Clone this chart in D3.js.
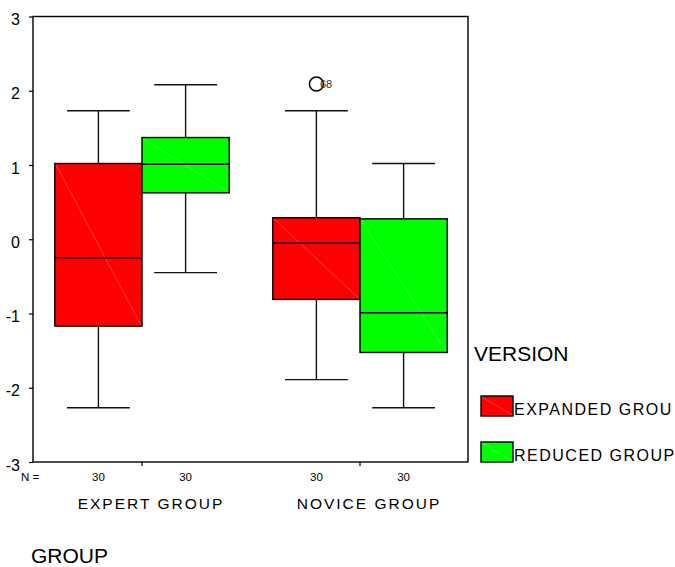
<!DOCTYPE html>
<html>
<head>
<meta charset="utf-8">
<script src="https://cdn.jsdelivr.net/npm/d3@7"></script>
<style>
  body { margin: 0; background: #fff; }
  svg { display: block; background: #fff; }
  text { font-family: "Liberation Sans", Arial, sans-serif; fill: #000; }
</style>
</head>
<body>
<svg id="chart" width="675" height="567"></svg>
<script>
// Groups on the x axis and the versions compared inside each group
const groups = ["EXPERT GROUP", "NOVICE GROUP"];
const versions = ["EXPANDED GROUP", "REDUCED GROUP"];
const legendLabels = ["EXPANDED GROU", "REDUCED GROUP"];
const versionColors = ["#ff0000", "#00ff00"];

// Sample sizes, one row per group, one entry per version
const expertCounts = [30, 30];
const noviceCounts = [30, 30];

// Box summaries: [lower whisker, Q1, median, Q3, upper whisker]
const expertStats = [
  [-2.27, -1.17, -0.25, 1.02, 1.73],
  [-0.45, 0.625, 1.01, 1.37, 2.08]
];
const noviceStats = [
  [-1.89, -0.81, -0.05, 0.29, 1.73],
  [-2.27, -1.525, -0.99, 0.275, 1.02]
];

// Flagged outlying cases
const outlierGroups = ["NOVICE GROUP"];
const outlierVersions = ["EXPANDED GROUP"];
const outlierValues = [2.09];
const outlierCases = ["68"];

const yTicks = [-3, -2, -1, 0, 1, 2, 3];

// Build box records from the arrays above
const statsByGroup = { "EXPERT GROUP": expertStats, "NOVICE GROUP": noviceStats };
const countsByGroup = { "EXPERT GROUP": expertCounts, "NOVICE GROUP": noviceCounts };
const boxes = [];
groups.forEach(g => versions.forEach((v, i) => {
  const s = statsByGroup[g][i];
  boxes.push({ group: g, version: v, color: versionColors[i], n: countsByGroup[g][i],
               lo: s[0], q1: s[1], med: s[2], q3: s[3], hi: s[4] });
}));
const outliers = outlierValues.map((val, i) => ({
  group: outlierGroups[i], version: outlierVersions[i], value: val, label: outlierCases[i]
}));

const svg = d3.select("#chart");
const plot = { left: 33, right: 469, top: 16.5, bottom: 462 };

const x = d3.scaleBand().domain(groups).range([plot.left, plot.right]).padding(0);
const bw = x.bandwidth();
const xv = d3.scaleBand().domain(versions).range([0.1 * bw, 0.9 * bw]).padding(0);
const boxW = xv.bandwidth();
const y = d3.scaleLinear().domain([-3, 3]).range([plot.bottom, plot.top]);

const cx = d => x(d.group) + xv(d.version) + boxW / 2;

// Y axis ticks and labels (plain hyphen for negatives)
const yAxis = svg.append("g")
  .attr("transform", `translate(${plot.left},0)`)
  .call(d3.axisLeft(y).tickValues(yTicks).tickSize(4).tickSizeOuter(0).tickPadding(9).tickFormat(d => String(d)));
yAxis.select(".domain").remove();
yAxis.selectAll(".tick line").attr("stroke", "#000").attr("stroke-width", 1.2);
yAxis.selectAll(".tick text")
  .attr("font-size", 16).attr("dy", "0.5em")
  .style("font-family", '"Liberation Sans", Arial, sans-serif').attr("fill", "#000");

// X axis ticks at group centres
const xAxis = svg.append("g")
  .attr("transform", `translate(0,${plot.bottom})`)
  .call(d3.axisBottom(x).tickSize(4).tickSizeOuter(0).tickFormat(""));
xAxis.select(".domain").remove();
xAxis.selectAll(".tick line").attr("stroke", "#000").attr("stroke-width", 1.2);

// Whiskers and caps
const capHalf = boxW * 0.36;
const wh = svg.append("g").attr("stroke", "#111").attr("stroke-width", 1.4);
boxes.forEach(d => {
  const c = cx(d);
  wh.append("line").attr("x1", c).attr("x2", c).attr("y1", y(d.q3)).attr("y2", y(d.hi));
  wh.append("line").attr("x1", c).attr("x2", c).attr("y1", y(d.q1)).attr("y2", y(d.lo));
  wh.append("line").attr("x1", c - capHalf).attr("x2", c + capHalf).attr("y1", y(d.hi)).attr("y2", y(d.hi));
  wh.append("line").attr("x1", c - capHalf).attr("x2", c + capHalf).attr("y1", y(d.lo)).attr("y2", y(d.lo));
});

// Boxes
const bx = svg.append("g");
boxes.forEach(d => {
  const x0 = x(d.group) + xv(d.version);
  bx.append("rect")
    .attr("x", x0).attr("y", y(d.q3))
    .attr("width", boxW).attr("height", y(d.q1) - y(d.q3))
    .attr("fill", d.color).attr("stroke", "#000").attr("stroke-width", 1.4);
  // faint fill-pattern diagonal
  bx.append("line")
    .attr("x1", x0 + 1).attr("y1", y(d.q3) + 1)
    .attr("x2", x0 + boxW - 1).attr("y2", y(d.q1) - 1)
    .attr("stroke", "#fff").attr("stroke-opacity", 0.3).attr("stroke-width", 0.8);
  bx.append("line")
    .attr("x1", x0).attr("x2", x0 + boxW)
    .attr("y1", y(d.med)).attr("y2", y(d.med))
    .attr("stroke", "#000").attr("stroke-width", 1.4);
});

// Outliers with case labels
outliers.forEach(o => {
  const c = x(o.group) + xv(o.version) + boxW / 2;
  svg.append("circle").attr("cx", c).attr("cy", y(o.value)).attr("r", 7)
    .attr("fill", "none").attr("stroke", "#000").attr("stroke-width", 1.5);
  svg.append("text").attr("x", c + 3.5).attr("y", y(o.value) + 4)
    .attr("font-size", 11).style("fill", "#333").text(o.label);
});

// Plot frame
svg.append("rect")
  .attr("x", plot.left).attr("y", plot.top)
  .attr("width", plot.right - 1 - plot.left).attr("height", plot.bottom - plot.top)
  .attr("fill", "none").attr("stroke", "#000").attr("stroke-width", 1.4);

// Sample size row
svg.append("text").attr("x", 21).attr("y", 481).attr("font-size", 11.5).text("N =");
svg.append("g").selectAll("text").data(boxes).join("text")
  .attr("x", d => cx(d)).attr("y", 481)
  .attr("text-anchor", "middle").attr("font-size", 11.5)
  .text(d => d.n);

// Group labels
svg.append("g").selectAll("text").data(groups).join("text")
  .attr("x", d => x(d) + bw / 2 + 9).attr("y", 509)
  .attr("text-anchor", "middle").attr("font-size", 15.5)
  .attr("letter-spacing", "2px")
  .text(d => d);

// Axis title
svg.append("text").attr("x", 31).attr("y", 563).attr("font-size", 21).text("GROUP");

// Legend
const lg = svg.append("g");
lg.append("text").attr("x", 474).attr("y", 361).attr("font-size", 21).text("VERSION");
const legendY = [396, 442];
versions.forEach((v, i) => {
  lg.append("rect").attr("x", 481).attr("y", legendY[i]).attr("width", 32).attr("height", 20)
    .attr("fill", versionColors[i]).attr("stroke", "#000").attr("stroke-width", 1.4);
  lg.append("line").attr("x1", 482).attr("y1", legendY[i] + 1).attr("x2", 512).attr("y2", legendY[i] + 19)
    .attr("stroke", "#fff").attr("stroke-opacity", 0.3).attr("stroke-width", 0.8);
  lg.append("text").attr("x", 514).attr("y", legendY[i] + 19)
    .attr("font-size", 16).attr("letter-spacing", "1.5px")
    .text(legendLabels[i]);
});
</script>
</body>
</html>
